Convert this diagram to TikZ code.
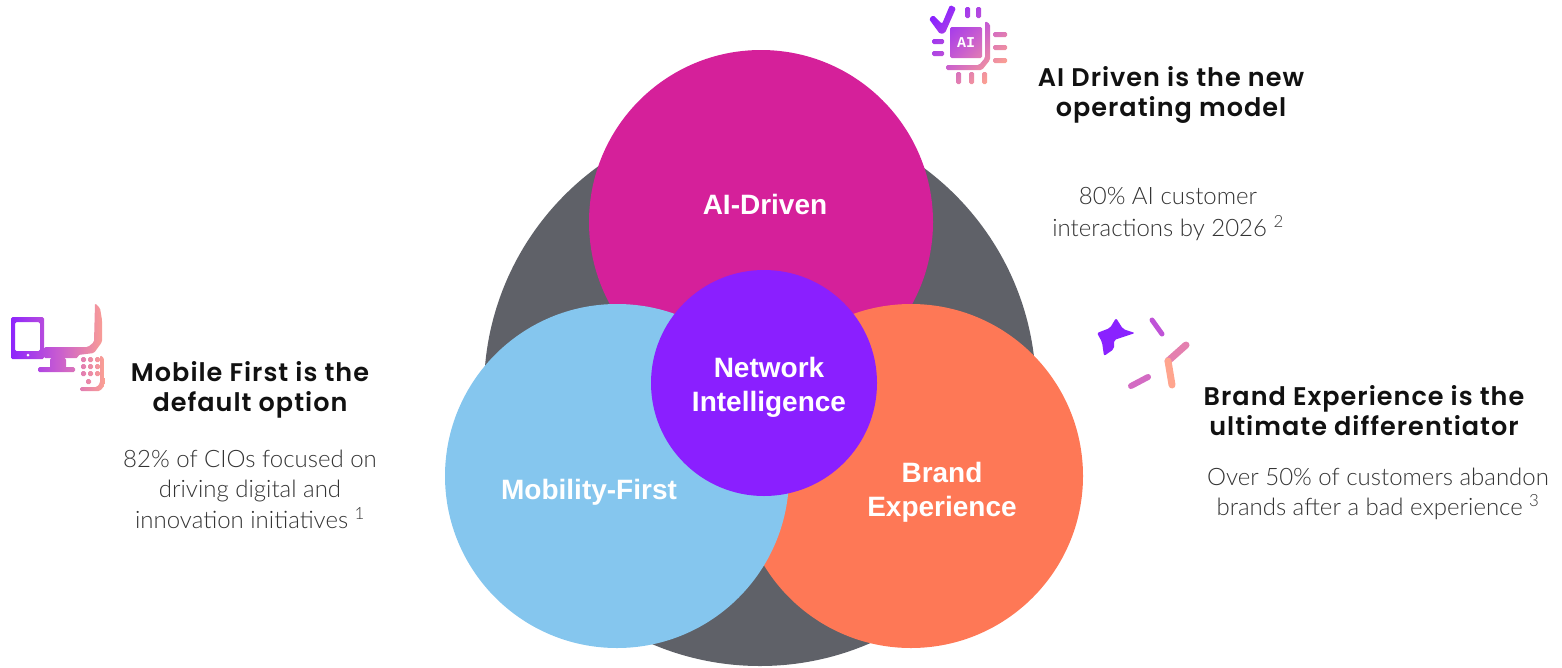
\documentclass[tikz,border=0pt]{standalone}
\usepackage{fontspec}
\setmainfont{Lato}
\newfontfamily\headfont{Poppins SemiBold}[LetterSpace=4]
\newfontfamily\bodyfont{Lato Light}
\newfontfamily\labelfont{Liberation Sans}[BoldFont={Liberation Sans Bold}]
\newfontfamily\chipfont{Liberation Mono}
\definecolor{greyc}{HTML}{5F6168}
\definecolor{pinkc}{HTML}{D5209A}
\definecolor{bluec}{HTML}{85C6EE}
\definecolor{orangec}{HTML}{FE7856}
\definecolor{purplec}{HTML}{8A1FFF}
\definecolor{headc}{HTML}{111111}
\definecolor{bodyc}{HTML}{333333}
\definecolor{icona}{HTML}{8A22FF}
\definecolor{iconb}{HTML}{C85CD0}
\definecolor{iconc}{HTML}{FFA58E}
\tikzset{
  disc/.style={circle,inner sep=0pt,minimum size=#1},
  lab/.style={text=white,align=center,font=\labelfont\bfseries\fontsize{28}{34}\selectfont},
  headtxt/.style={text=headc,align=center,font=\headfont\fontsize{25.5}{30}\selectfont},
  bodytxt/.style={text=bodyc,align=center,font=\bodyfont\fontsize{24}{30.5}\selectfont},
  iconline/.style={line width=5pt,line cap=round,line join=round}
}
\begin{document}
\begin{tikzpicture}[x=1pt,y=-1pt]
\useasboundingbox (0,0) rectangle (1562,667);
\node[disc=552pt,fill=greyc] (grey) at (760,390) {};
\node[disc=344pt,fill=pinkc] (ai) at (761,222) {};
\node[disc=344pt,fill=orangec] (brand) at (911,476) {};
\node[disc=344pt,fill=bluec] (mobile) at (617,476) {};
\node[disc=226pt,fill=purplec] (net) at (764,383) {};
\node[lab] (tai) at (765,204) {AI-Driven};
\node[lab] (tnet) at (769,387) {Network\\Intelligence};
\node[lab] (tmob) at (589,492) {Mobility-First};
\node[lab] (tbrand) at (942,492) {Brand\\Experience};
\node[headtxt] (h1) at (1171,95) {AI Driven is the new\\operating model};
\node[bodytxt] (b1) at (1168,214) {80\% AI customer\\[1.5pt]interactions by 2026 \textsuperscript{2}};
\node[headtxt] (h2) at (250,390) {Mobile First is the\\default option};
\node[bodytxt] (b2) at (250,489) {82\% of CIOs focused on\\driving digital and\\innovation initiatives \textsuperscript{1}};
\node[headtxt] (h3) at (1364,411) {Brand Experience is the\\ultimate differentiator};
\node[bodytxt] (b3) at (1378,494) {Over 50\% of customers abandon\\brands after a bad experience \textsuperscript{3}};
% AI icon
\begin{scope}
\clip[rounded corners=1.5pt]
  (929,19) -- (933,15) -- (942,24) -- (950,5) -- (956,8) -- (945,33) -- (940,34) -- cycle
  (965,7) rectangle (970,18) (976,7) rectangle (981,18)
  (932,39) rectangle (944,44) (932,51) rectangle (944,56)
  (950,27) rectangle (982,58)
  (985,21) -- (990,24) -- (990,60) -- (982,70) -- (946,70) -- (946,65) -- (979,65) -- (985,58) -- cycle
  (993,32) rectangle (1007,37) (993,45) rectangle (1007,50) (993,58) rectangle (1007,63)
  (956,72) rectangle (961,84) (969,72) rectangle (974,84) (982,72) rectangle (987,84);
\shade[shading=axis,left color=icona,right color=iconc,middle color=iconb,shading angle=45] (925,0) rectangle (1010,88);
\end{scope}
\node[text=white,font=\chipfont\bfseries\fontsize{15}{15}\selectfont,inner sep=0pt] (chip) at (966,43) {AI};
% device icon
\begin{scope}
\clip[rounded corners=1.5pt]
  (11,317) -- (44,317) -- (44,359) -- (11,359) -- cycle
  (15,322) -- (15,351) -- (40,351) -- (40,322) -- cycle
  (44,347) -- (88,347) -- (94,342) -- (95,303) -- (100,308) -- (102,320) -- (102,342) -- (94,353) -- (78,355) -- (78,358) -- (44,358) -- cycle
  (50,358) rectangle (66,368) (38,367) rectangle (75,372)
  (81,357) rectangle (86,362) (88,357) rectangle (93,362) (95,357) rectangle (100,362)
  (81,364) rectangle (86,369) (88,364) rectangle (93,369) (95,364) rectangle (100,369)
  (81,371) rectangle (86,376) (88,371) rectangle (93,376) (95,371) rectangle (100,376)
  (86,379) rectangle (91,384)
  (100,355) -- (104,358) -- (105,385) -- (100,391) -- (80,391) -- (80,387) -- (97,387) -- (100,383) -- cycle;
\shade[left color=icona,right color=iconc,middle color=iconb] (8,300) rectangle (108,394);
\end{scope}
\fill[white] (28,355) circle (1.5pt);
% star icon
\fill[icona,rounded corners=2pt] (1097,333) -- (1110,328) -- (1116,318) -- (1123,329) -- (1135,333) -- (1114,340) -- (1114,349) -- (1104,356) -- (1102,342) -- cycle;
\draw[iconline,color=iconb!85!icona] (1152,320) -- (1162,334);
\draw[iconline,line width=6pt,color=iconb!80!iconc] (1131,386) -- (1148,377);
\draw[iconline,line width=7pt,color=iconb!50!iconc] (1186,345) -- (1168,361);
\draw[iconline,line width=7pt,color=iconc] (1168,361) -- (1172,385);
\end{tikzpicture}
\end{document}
